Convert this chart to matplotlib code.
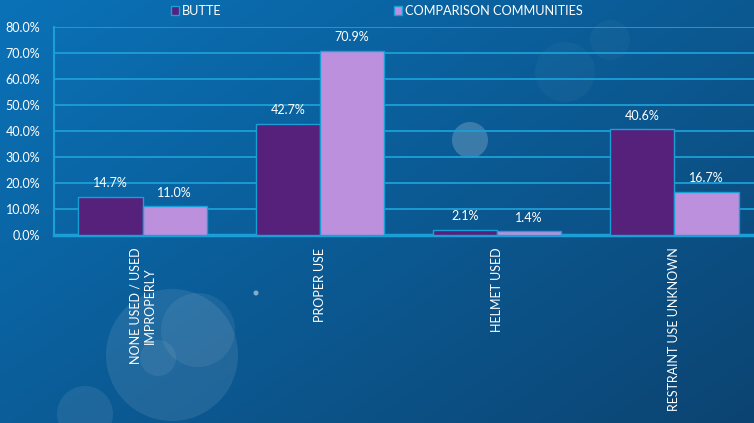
import matplotlib.pyplot as plt
import numpy as np
from matplotlib.patches import Circle, Patch

categories = ['NONE USED / USED\nIMPROPERLY', 'PROPER USE', 'HELMET USED', 'RESTRAINT USE UNKNOWN']
butte = [14.7, 42.7, 2.1, 40.6]
comparison = [11.0, 70.9, 1.4, 16.7]
series_names = ['BUTTE', 'COMPARISON COMMUNITIES']

plt.rcParams['font.family'] = ['Lato', 'DejaVu Sans']

W, H = 754, 423
fig = plt.figure(figsize=(W / 100, H / 100), dpi=100)

# background gradient + soft bokeh circles (pixel coords, y down)
bg = fig.add_axes([0, 0, 1, 1])
yy, xx = np.mgrid[0:1:200j, 0:1:300j]
t = np.clip(0.55 * xx + 0.45 * yy, 0, 1)
c0 = np.array([0x0a, 0x72, 0xb8]) / 255
c1 = np.array([0x0c, 0x44, 0x72]) / 255
img = c0 * (1 - t[..., None]) + c1 * t[..., None]
bg.imshow(img, extent=[0, W, H, 0], aspect='auto')
for (cx, cy, r, a) in [(172, 355, 66, 0.09), (198, 330, 37, 0.07),
                       (158, 358, 18, 0.07), (85, 414, 28, 0.08),
                       (470, 140, 18, 0.20), (565, 72, 30, 0.03),
                       (610, 40, 20, 0.03), (256, 293, 2.5, 0.5)]:
    bg.add_patch(Circle((cx, cy), r, color='white', alpha=a, lw=0))
bg.set_xlim(0, W)
bg.set_ylim(H, 0)
bg.axis('off')

ax = fig.add_axes([54 / W, 1 - 235 / H, (763 - 54) / W, 208 / H])
ax.patch.set_alpha(0)

grid_c = '#1c9fd6'
x = np.arange(len(categories))
w = 0.362
b1 = ax.bar(x - w / 2, butte, w, color='#55217a', edgecolor=grid_c, lw=1, zorder=3)
b2 = ax.bar(x + w / 2, comparison, w, color='#bd90dd', edgecolor=grid_c, lw=1, zorder=3)
for bars, vals in [(b1, butte), (b2, comparison)]:
    for rect, v in zip(bars, vals):
        ax.text(rect.get_x() + rect.get_width() / 2, v + 3.0, f'{v:.1f}%',
                ha='center', va='bottom', color='white', fontsize=9)

ax.set_xlim(-0.5, 3.5)
ax.set_ylim(0, 80)
ax.set_yticks(np.arange(0, 81, 10))
ax.set_yticklabels([f'{v:.1f}%' for v in np.arange(0, 81, 10)])
ax.yaxis.grid(True, color=grid_c, lw=1.3, zorder=0)
ax.set_axisbelow(True)
ax.set_xticks(x)
ax.set_xticklabels(categories, rotation=90, va='top', ha='center',
                   multialignment='center', fontsize=9)
ax.tick_params(axis='both', length=0, colors='white')
ax.tick_params(axis='y', labelsize=9, pad=10)
ax.tick_params(axis='x', pad=9)
for s in ['top', 'right']:
    ax.spines[s].set_visible(False)
ax.spines['left'].set_color(grid_c)
ax.spines['left'].set_linewidth(1.5)
ax.spines['bottom'].set_color(grid_c)
ax.spines['bottom'].set_linewidth(2.5)

handles = [Patch(facecolor='#55217a', edgecolor=grid_c, lw=1),
           Patch(facecolor='#bd90dd', edgecolor=grid_c, lw=1)]
fig.legend(handles, series_names, loc='center', bbox_to_anchor=(0.5, 1 - 11 / H),
           ncol=2, frameon=False, fontsize=9.2, labelcolor='white',
           handlelength=0.6, handleheight=0.6, handletextpad=0.25, columnspacing=13.5)

fig.savefig('out.png', dpi=100)
